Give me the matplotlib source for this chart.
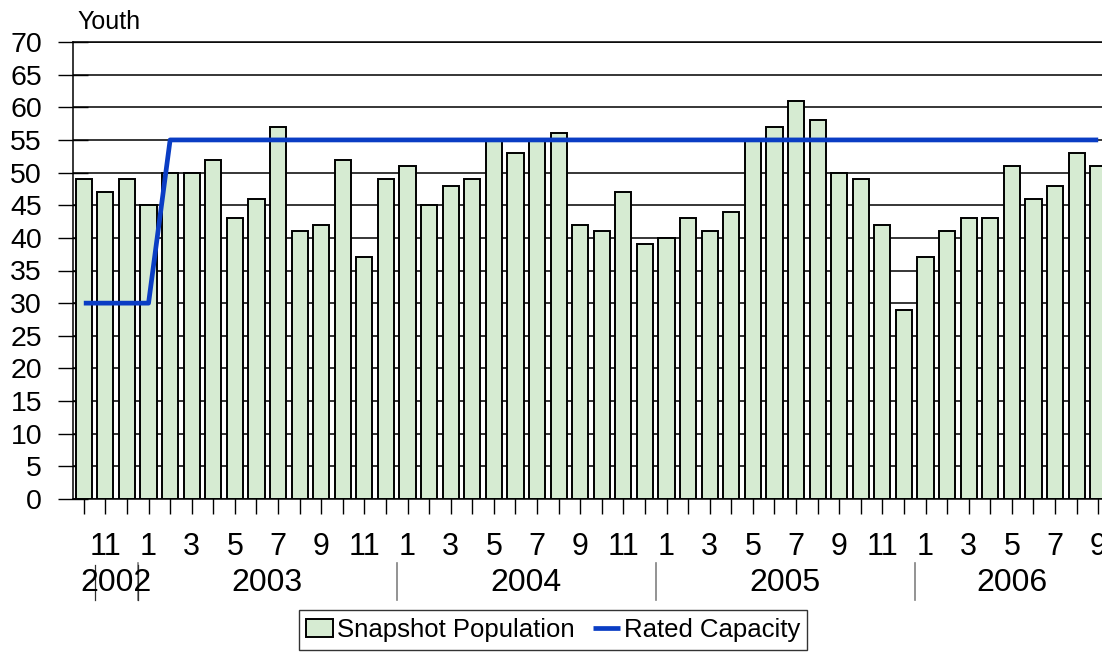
import matplotlib
matplotlib.use("Agg")
import matplotlib.pyplot as plt
import matplotlib.transforms as mtransforms
import numpy as np

plt.rcParams['font.family'] = ['Liberation Sans', 'DejaVu Sans']

# ---- data ----
months = [10, 11, 12] + list(range(1, 13)) * 3 + list(range(1, 10))
years = [2002] * 3 + [2003] * 12 + [2004] * 12 + [2005] * 12 + [2006] * 9
population = [49, 47, 49, 45, 50, 50, 52, 43, 46, 57, 41, 42, 52, 37, 49,
              51, 45, 48, 49, 55, 53, 55, 56, 42, 41, 47, 39,
              40, 43, 41, 44, 55, 57, 61, 58, 50, 49, 42, 29,
              37, 41, 43, 43, 51, 46, 48, 53, 51]
capacity = [30, 30, 30, 30] + [55] * 44
year_labels = ['2002', '2003', '2004', '2005', '2006']

W, H = 1102, 652
fig = plt.figure(figsize=(W / 100, H / 100), dpi=100)
ax = fig.add_axes([73 / W, (H - 499) / H, 1036 / W, 457 / H])

x = np.arange(len(population))
bars = ax.bar(x, population, width=0.75, color='#d6ebd2', edgecolor='black',
              linewidth=1.4, label='Snapshot Population', zorder=2)
line, = ax.plot(x, capacity, color='#0a3dc4', linewidth=3.4,
                label='Rated Capacity', zorder=3, solid_capstyle='butt')

ax.set_xlim(-0.5, len(population) - 0.5)
ax.set_ylim(0, 70)
ax.set_yticks(np.arange(0, 71, 5))
ax.yaxis.grid(True, color='black', linewidth=1.1)
ax.set_axisbelow(True)

ax.set_xticks(x)
ax.set_xticklabels([str(m) if i % 2 == 1 else '' for i, m in enumerate(months)])
ax.tick_params(axis='both', direction='inout', length=21.6, width=1.0,
               colors='black')
ax.tick_params(axis='y', labelsize=20.5, pad=11.5)
ax.tick_params(axis='x', labelsize=22, pad=13)

ax.spines['right'].set_visible(False)
for s in ['left', 'bottom', 'top']:
    ax.spines[s].set_linewidth(1.1)

# Year group labels and separators
trans = mtransforms.blended_transform_factory(ax.transData, ax.transAxes)
years_arr = np.array(years)
ypix = lambda p: (499 - p) / 457
for i, yl in enumerate(year_labels):
    idx = np.where(years_arr == int(yl))[0]
    cx = (idx[0] + idx[-1]) / 2
    if i == 0:
        cx += 0.5
    ax.text(cx, ypix(583), yl, transform=trans, ha='center', va='center',
            fontsize=23, clip_on=False)
    if i > 0:
        bx = idx[0] - 0.5
        ax.plot([bx, bx], [ypix(563), ypix(600)], transform=trans,
                color='#808080', linewidth=1.2, clip_on=False)
for bx in [0.5, 2.5]:
    ax.plot([bx, bx], [ypix(565), ypix(600)], transform=trans,
            color='#303030', linewidth=0.9, clip_on=False)

fig.text(77 / W, 1 - 29 / H, 'Youth', fontsize=18, ha='left', va='baseline')

leg = fig.legend([bars, line], ['Snapshot Population', 'Rated Capacity'],
                 loc='center', bbox_to_anchor=(553 / W, 1 - 630 / H), ncol=2,
                 fontsize=18.5, frameon=True, fancybox=False, shadow=False,
                 handlelength=1.05, handleheight=0.72, handletextpad=0.15,
                 columnspacing=0.7, borderpad=0.3, borderaxespad=0)
leg.get_frame().set_edgecolor('black')
leg.get_frame().set_linewidth(1.0)

fig.savefig('out.png', dpi=100)
